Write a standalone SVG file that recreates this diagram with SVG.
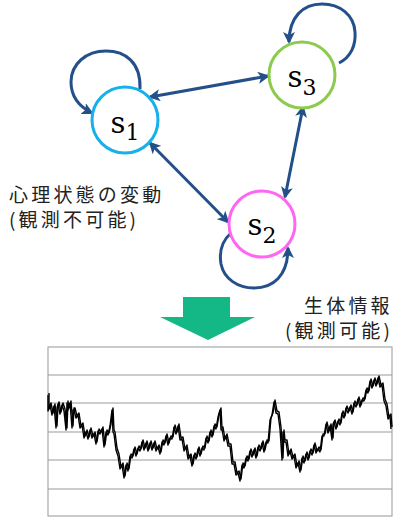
<svg xmlns="http://www.w3.org/2000/svg" width="397" height="519" viewBox="0 0 397 519">
<style>
.node{fill:#fff;stroke-width:3}
.conn{fill:none;stroke:#24508A;stroke-width:3}
.lbl{font-family:"DejaVu Serif","Liberation Serif",serif;font-size:29px;fill:#000}
.sub{font-size:22px}
.jp{font-family:"Noto Sans CJK JP","Noto Sans",sans-serif;font-size:19px;fill:#222;letter-spacing:3.2px}
.grid{stroke:#9a9a9a;stroke-width:1.2}
.trace{fill:none;stroke:#000;stroke-width:1.4;stroke-linejoin:round}
</style>
<defs>
<marker id="ah" viewBox="0 0 12 12" refX="10" refY="6" markerWidth="12" markerHeight="12" markerUnits="userSpaceOnUse" orient="auto-start-reverse">
<path d="M0,0 L12,6 L0,12 L3,6 z" fill="#24508A"/>
</marker>
<polyline id="tr" points="48,395 48,411 50,405 52,415 54,406 56,428 57,408 58,404 60,414 62,405 64,411 66,430 67,403 68,410 70,403 72,428 73,410 74,410 76,418 78,415 80,428 82,425 84,438 86,432 88,439 90,430 92,438 94,434 96,444 98,431 100,434 102,429 104,447 106,432 108,435 110,426 112,410 113,432 114,434 116,450 118,456 120,469 122,465 124,478 126,465 128,471 130,456 132,458 134,449 136,456 138,448 140,451 142,442 144,450 146,443 148,451 150,443 152,450 154,443 156,451 158,447 160,454 162,442 164,445 166,436 168,445 170,438 172,439 174,427 176,434 178,426 180,440 182,439 184,451 186,447 188,459 190,456 192,466 194,455 196,459 198,449 200,456 202,448 204,450 206,438 208,443 210,432 212,437 214,426 216,429 218,417 220,410 221,430 222,429 224,441 226,436 228,446 230,446 232,464 234,464 236,475 238,473 240,481 242,465 244,468 246,458 248,461 250,451 252,457 254,450 256,458 258,447 260,451 262,443 264,452 266,442 268,443 270,420 272,415 274,402 276,413 278,414 280,429 282,460 283,432 284,442 286,442 288,456 290,451 292,459 294,456 296,468 298,463 300,472 302,458 304,463 306,454 308,460 310,451 312,455 314,445 316,453 318,449 320,452 322,436 324,436 326,424 328,433 330,426 332,440 333,424 334,422 336,429 338,421 340,425 342,413 344,418 346,408 348,413 350,407 352,414 354,403 356,407 358,399 360,407 362,400 364,401 366,390 368,393 370,381 372,388 374,380 376,386 378,378 380,387 382,385 384,401 386,406 388,419 390,416 391,429"/>
</defs>
<rect width="397" height="519" fill="#fff"/>
<g id="connectors">
<path class="conn" d="M150,97 L268,76" marker-start="url(#ah)" marker-end="url(#ah)"/>
<path class="conn" d="M150,143 L228,222" marker-start="url(#ah)" marker-end="url(#ah)"/>
<path class="conn" d="M303,107 L285,197" marker-start="url(#ah)" marker-end="url(#ah)"/>
<path class="conn" d="M140,89 C141,62 125,51 106,51 C86,51 71,64 71,82 C71,97 80,107 92,113" marker-end="url(#ah)"/>
<path class="conn" d="M339,63 C351,57 356,45 355,32 C354,15 340,4 322,4 C303,4 289,17 289,42" marker-end="url(#ah)"/>
<path class="conn" d="M231,233 C222,241 219,252 221,264 C224,279 238,288 254,288 C273,288 288,276 288,248" marker-end="url(#ah)"/>
</g>
<g id="s1">
<circle class="node" cx="125" cy="120" r="33" stroke="#16B0EA"/>
<text class="lbl" x="110.5" y="133">s<tspan class="sub" dy="7">1</tspan></text>
</g>
<g id="s3">
<circle class="node" cx="302" cy="75" r="33" stroke="#8DCB4E"/>
<text class="lbl" x="287.5" y="87">s<tspan class="sub" dy="8">3</tspan></text>
</g>
<g id="s2">
<circle class="node" cx="262" cy="224" r="33" stroke="#FF66F2"/>
<text class="lbl" x="247.5" y="235">s<tspan class="sub" dy="8">2</tspan></text>
</g>
<g id="label-mental">
<text class="jp" x="9" y="202">心理状態の変動</text>
<text class="jp" x="9" y="227">(観測不可能)</text>
</g>
<g id="label-bio">
<text class="jp" x="304" y="313">生体情報</text>
<text class="jp" x="285" y="338">(観測可能)</text>
</g>
<g id="big-arrow">
<polygon points="183,297 230,297 230,317 255,317 208,340 160,317 183,317" fill="#14B886"/>
</g>
<g id="chart">
<rect x="48" y="347" width="344" height="169" fill="#fff" stroke="#a8a8a8" stroke-width="1.2"/>
<line class="grid" x1="48" y1="375" x2="392" y2="375"/>
<line class="grid" x1="48" y1="403" x2="392" y2="403"/>
<line class="grid" x1="48" y1="432" x2="392" y2="432"/>
<line class="grid" x1="48" y1="460" x2="392" y2="460"/>
<line class="grid" x1="48" y1="489" x2="392" y2="489"/>
<use href="#tr" class="trace"/>
<use href="#tr" class="trace" transform="translate(1,-2)"/>
</g>
</svg>
